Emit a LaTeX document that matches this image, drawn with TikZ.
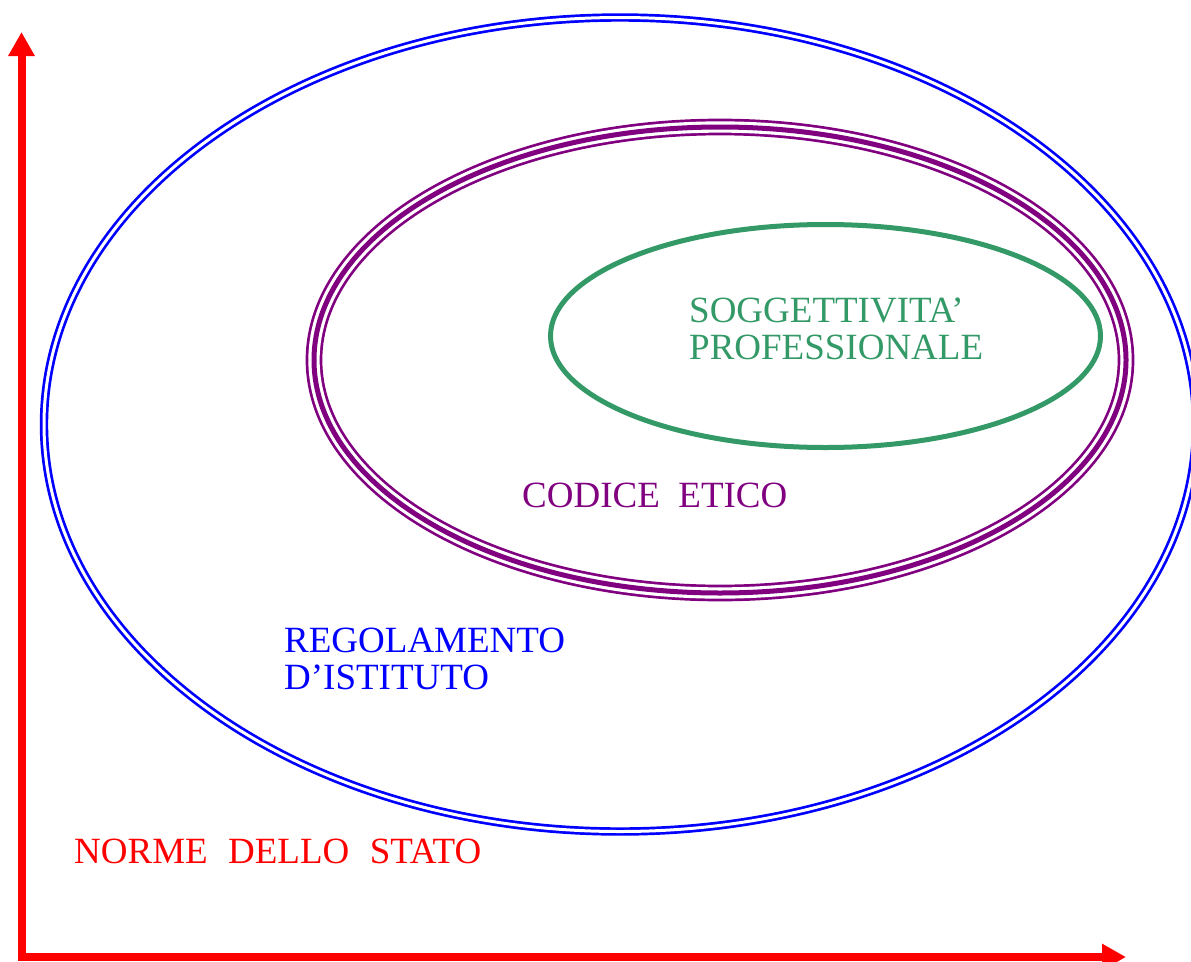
\documentclass[tikz,border=0pt]{standalone}
\usepackage{fontspec}
\setmainfont{Liberation Serif}
\usetikzlibrary{arrows.meta,shapes.geometric}
\definecolor{statored}{RGB}{255,0,0}
\definecolor{istitutoblue}{RGB}{0,0,255}
\definecolor{codicepurple}{RGB}{128,0,128}
\definecolor{soggreen}{RGB}{51,153,102}
\tikzset{
ring/.style={
    ellipse,
    inner sep=0pt,
    outer sep=0pt
},
istitutoring/.style={
    ring,
    draw=istitutoblue,
    line width=2.7pt,
    double=white,
    double distance=3pt
},
codiceringouter/.style={
    ring,
    draw=codicepurple,
    line width=2.7pt,
    double=white,
    double distance=11.3pt
},
codiceringinner/.style={
    ring,
    draw=codicepurple,
    line width=5pt
},
soggring/.style={
    ring,
    draw=soggreen,
    line width=5pt
},
label/.style={
    inner sep=0pt,
    align=left,
    font=\fontsize{37}{37}\selectfont
},
axis/.style={
    statored,
    line width=8pt,
    -{Triangle[length=24pt,width=25pt]}
}
}

\begin{document}
\begin{tikzpicture}[x=1pt,y=-1pt]
\useasboundingbox (0,0) rectangle (1191,961);
%
\node (istituto) [istitutoring,minimum width=1152pt,minimum height=814pt] at (620,424.5) {};
\node (codice) [codiceringouter,minimum width=812pt,minimum height=466pt] at (720,360) {};
\node (codicemid) [codiceringinner,minimum width=812pt,minimum height=466pt] at (720,360) {};
\node (sogg) [soggring,minimum width=550pt,minimum height=223pt] at (825.5,336) {};
%
\node (soggtext) [label,text=soggreen,anchor=base west] at (689,359) {SOGGETTIVITA’\\PROFESSIONALE};
\node (codicetext) [label,text=codicepurple,anchor=base west] at (522,507) {CODICE\ \ ETICO};
\node (istitutotext) [label,text=istitutoblue,anchor=base west] at (284,689) {REGOLAMENTO\\D’ISTITUTO};
\node (statotext) [label,text=statored,anchor=base west] at (74,863) {NORME\hspace{0.55em}DELLO\hspace{0.55em}STATO};
%
\coordinate (origin) at (21.5,957);
\coordinate (ytop) at (21.5,32);
\coordinate (xend) at (1126,957);
\draw [axis] ([yshift=4pt]origin) -- (ytop);
\draw [axis] ([xshift=-4pt]origin) -- (xend);
%
\end{tikzpicture}
\end{document}
